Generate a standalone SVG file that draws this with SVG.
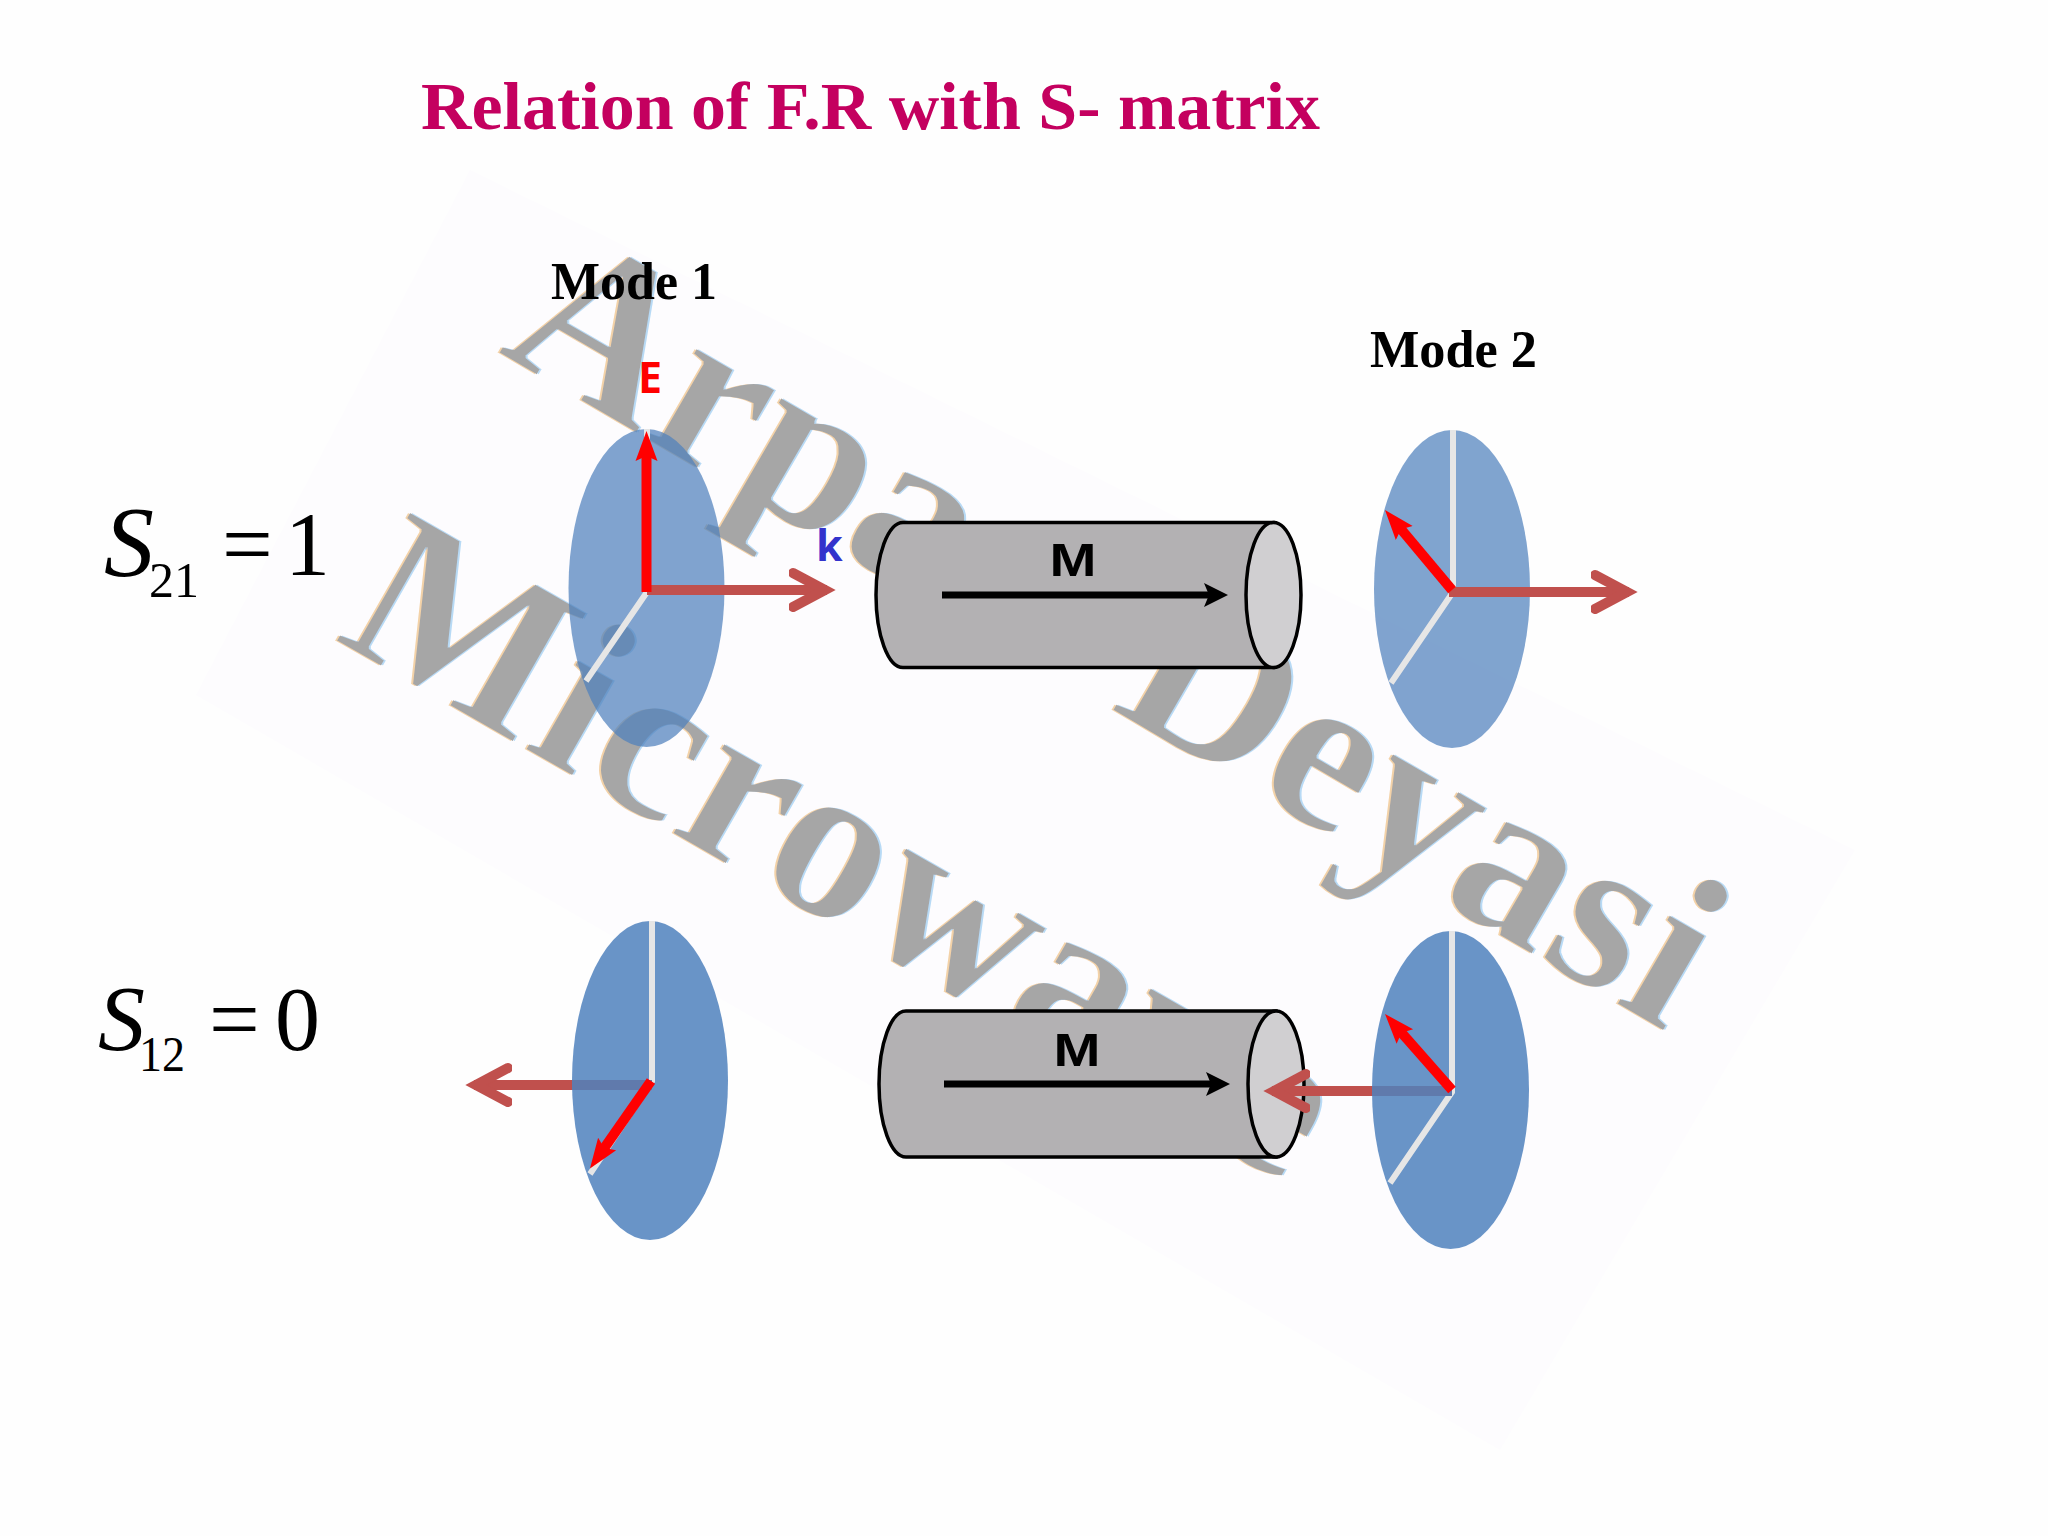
<svg xmlns="http://www.w3.org/2000/svg" width="2048" height="1536" viewBox="0 0 2048 1536">
<style>
.serifb{font-family:"Liberation Serif","Times New Roman",serif;font-weight:bold}
.eq{font-family:"Liberation Serif","Times New Roman",serif;fill:#000}
.mode{font-size:52px;fill:#000}
.mark{font-size:228px;fill:#a6a6a6}
.disc1{fill:#4f81bd;opacity:.72}
.disc2{fill:#4f81bd;opacity:.85}
.axis{stroke:#e6e6e6;stroke-width:6;fill:none}
.body{fill:#b3b1b3;stroke:#000;stroke-width:3.5}
.end{fill:#d0cfd1;stroke:#000;stroke-width:3.5}
.mlabel{font-family:"Liberation Sans",Arial,sans-serif;font-weight:bold;font-size:47px;fill:#000;text-anchor:middle}
.field{font-family:"Noto Sans",sans-serif;font-weight:bold;font-size:43px}
.red{stroke:#ff0000;stroke-width:10;fill:none;marker-end:url(#redHead)}
.blk{stroke:#000;stroke-width:7;fill:none;marker-end:url(#blackHead)}
.brn{stroke:#c0504d;stroke-width:10;fill:none}
.brnE{marker-end:url(#chevron)}
.tint{stroke:#607aac;stroke-width:10;fill:none}
</style>
<defs>
<marker id="redHead" markerUnits="userSpaceOnUse" markerWidth="32" markerHeight="26" refX="6" refY="13" orient="auto">
<path d="M0,2 L30,13 L0,24 L5,13 Z" fill="#ff0000"/>
</marker>
<marker id="blackHead" markerUnits="userSpaceOnUse" markerWidth="28" markerHeight="28" refX="6" refY="14" orient="auto">
<path d="M0,2 L24,14 L0,26 L5,14 Z" fill="#000"/>
</marker>
<marker id="chevron" markerUnits="userSpaceOnUse" markerWidth="52" markerHeight="50" refX="38" refY="25" orient="auto">
<path d="M4,8 L36,25 L4,42" fill="none" stroke="#c0504d" stroke-width="10" stroke-linecap="round" stroke-linejoin="miter"/>
</marker>
<filter id="fringe" x="-5%" y="-5%" width="110%" height="110%">
<feMorphology in="SourceGraphic" operator="erode" radius="1" result="thin"/>
<feOffset in="thin" dx="-2" dy="0" result="ol"/>
<feFlood flood-color="#f3d2a8"/>
<feComposite in2="ol" operator="in" result="left"/>
<feOffset in="thin" dx="2" dy="0" result="or"/>
<feFlood flood-color="#b8daf5"/>
<feComposite in2="or" operator="in" result="right"/>
<feMerge><feMergeNode in="left"/><feMergeNode in="right"/><feMergeNode in="thin"/></feMerge>
</filter>
</defs>
<rect id="background" width="2048" height="1536" fill="#fefefe"/>
<polygon id="watermark-halo" points="470,170 1855,850 1500,1450 196,695" fill="#fdfcfe"/>
<g id="watermark" class="serifb" filter="url(#fringe)">
<text class="mark" word-spacing="18" transform="translate(496,352) rotate(30.2)">Arpan Deyasi</text>
<text class="mark" transform="translate(332,639) rotate(29.8)" textLength="1100" lengthAdjust="spacing">Microwave</text>
</g>
<g id="title"><text class="serifb" x="421" y="129" font-size="68" fill="#c4005f" textLength="899" lengthAdjust="spacingAndGlyphs">Relation of F.R with S- matrix</text></g>
<g id="mode1"><text class="serifb mode" x="551" y="299" textLength="166" lengthAdjust="spacingAndGlyphs">Mode 1</text></g>
<g id="mode2"><text class="serifb mode" x="1370" y="367" textLength="167" lengthAdjust="spacingAndGlyphs">Mode 2</text></g>
<g id="eq-s21" class="eq">
<text x="104" y="575" font-size="100" font-style="italic">S</text>
<text x="149" y="597" font-size="50">21</text>
<text x="222" y="575" font-size="90">=</text>
<text x="285" y="575" font-size="90">1</text>
</g>
<g id="eq-s12" class="eq">
<text x="98" y="1050" font-size="94" font-style="italic">S</text>
<text x="139" y="1071" font-size="50" textLength="46" lengthAdjust="spacingAndGlyphs">12</text>
<text x="209" y="1050" font-size="90">=</text>
<text x="275" y="1050" font-size="90">0</text>
</g>
<g id="disc-top-left">
<ellipse class="disc1" cx="646.5" cy="588" rx="78" ry="159"/>
<path class="axis" d="M647,429 V592 L586,681"/>
</g>
<g id="disc-top-right">
<ellipse class="disc1" cx="1452" cy="589" rx="78" ry="159"/>
<path class="axis" d="M1453,430 V592 L1391,683"/>
</g>
<g id="disc-bottom-left">
<ellipse class="disc2" cx="650" cy="1080.5" rx="78" ry="159.5"/>
<path class="axis" d="M652,921 V1081 L590,1174"/>
</g>
<g id="disc-bottom-right">
<ellipse class="disc2" cx="1450.5" cy="1090" rx="78.5" ry="159"/>
<path class="axis" d="M1452,931 V1092 L1390,1183"/>
</g>
<g id="cylinder-top">
<path class="body" d="M903,522.5 H1273.5 V667.5 H903 A27,72.5 0 0 1 903,522.5 Z"/>
<ellipse class="end" cx="1273.5" cy="595" rx="27.5" ry="72.5"/>
<text class="mlabel" x="1073" y="576" textLength="47" lengthAdjust="spacingAndGlyphs">M</text>
</g>
<g id="cylinder-bottom">
<path class="body" d="M906,1011 H1276 V1157 H906 A27,73 0 0 1 906,1011 Z"/>
<ellipse class="end" cx="1276" cy="1084" rx="28" ry="73"/>
<text class="mlabel" x="1077" y="1066" textLength="47" lengthAdjust="spacingAndGlyphs">M</text>
</g>
<g id="label-e"><text class="field" x="638" y="393" fill="#ff0000">E</text></g>
<g id="label-k"><text class="field" x="816" y="561" fill="#3333cc">k</text></g>
<g id="connectors">
<line class="blk" x1="942" y1="595" x2="1210" y2="595"/>
<line class="blk" x1="944" y1="1084" x2="1212" y2="1084"/>
<line class="brn brnE" x1="647" y1="590" x2="827" y2="590"/>
<line class="brn brnE" x1="1449" y1="592" x2="1629" y2="592"/>
<line class="tint" x1="652" y1="1085" x2="572" y2="1085"/>
<line class="brn brnE" x1="572" y1="1085" x2="474" y2="1085"/>
<line class="tint" x1="1452" y1="1091" x2="1372" y2="1091"/>
<line class="brn brnE" x1="1372" y1="1091" x2="1272" y2="1091"/>
<line class="red" x1="646.5" y1="592" x2="646.5" y2="455"/>
<line class="red" x1="1452" y1="590" x2="1400.4" y2="528.4"/>
<line class="red" x1="651" y1="1081" x2="603.7" y2="1148.9"/>
<line class="red" x1="1452" y1="1090" x2="1400.9" y2="1032"/>
</g>
</svg>
